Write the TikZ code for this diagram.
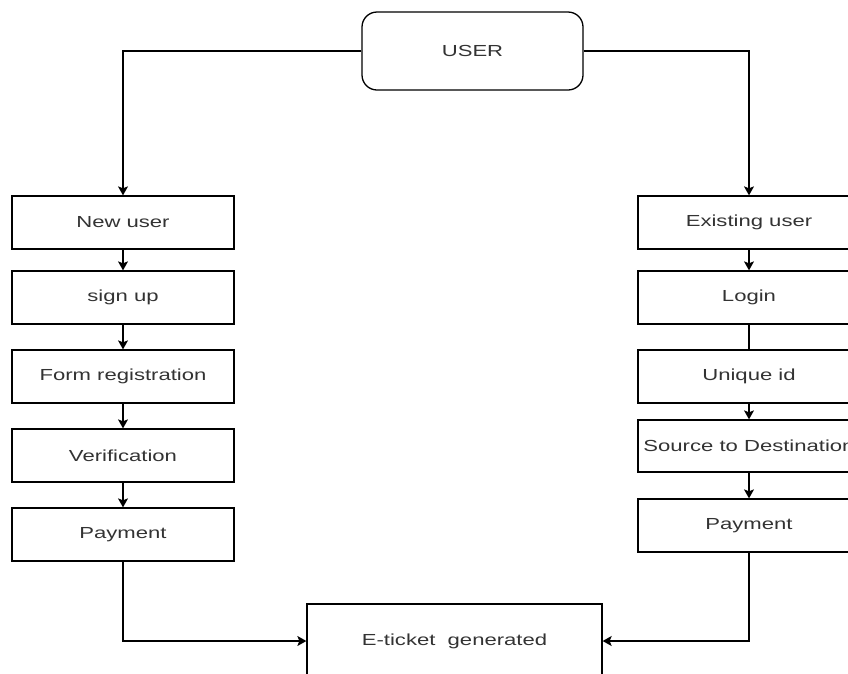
\documentclass[tikz,border=0pt]{standalone}
\usepackage{fontspec}
\newfontfamily\lab[FakeStretch=1.38]{Liberation Sans}
\usetikzlibrary{arrows.meta}
\definecolor{txt}{RGB}{51,51,51}
\tikzset{
  box/.style={draw=black, line width=1.3pt, fill=white, minimum width=222pt, minimum height=53pt, inner sep=0pt, font=\lab\fontsize{16pt}{19pt}\selectfont, text=txt},
  conn/.style={draw=black, line width=1.3pt, -{Stealth[length=9pt,width=10pt,inset=2pt]}},
  plain/.style={draw=black, line width=1.3pt}
}
\begin{document}
\begin{tikzpicture}[x=1pt,y=-1pt]
\useasboundingbox (0,0) rectangle (848,673);
\clip (0,0) rectangle (848,673);
\node[box, rounded corners=15pt, minimum width=221pt, minimum height=78pt] (user) at (472.5,51) {USER};
% left column
\node[box] (new) at (123,222.5) {New user};
\node[box] (sign) at (123,297.5) {sign up};
\node[box] (form) at (123,376.5) {Form registration};
\node[box] (ver) at (123,455.5) {Verification};
\node[box] (payl) at (123,534.5) {Payment};
% right column
\node[box] (exist) at (749,222.5) {Existing user};
\node[box] (login) at (749,297.5) {Login};
\node[box] (uid) at (749,376.5) {Unique id};
\node[box, minimum height=52pt] (src) at (749,446) {Source to Destination};
\node[box] (payr) at (749,525.5) {Payment};
% bottom
\node[box, minimum width=295pt, minimum height=74pt] (et) at (454.5,641) {E-ticket\ \ generated};
% connectors
\draw[conn] (user.west) -| (new.north);
\draw[conn] (user.east) -| (exist.north);
\draw[conn] (new) -- (sign);
\draw[conn] (sign) -- (form);
\draw[conn] (form) -- (ver);
\draw[conn] (ver) -- (payl);
\draw[conn] (exist) -- (login);
\draw[plain] (login) -- (uid);
\draw[conn] (uid) -- (src);
\draw[conn] (src) -- (payr);
\draw[conn] (payl.south) |- (et.west);
\draw[conn] (payr.south) |- (et.east);
\end{tikzpicture}
\end{document}
